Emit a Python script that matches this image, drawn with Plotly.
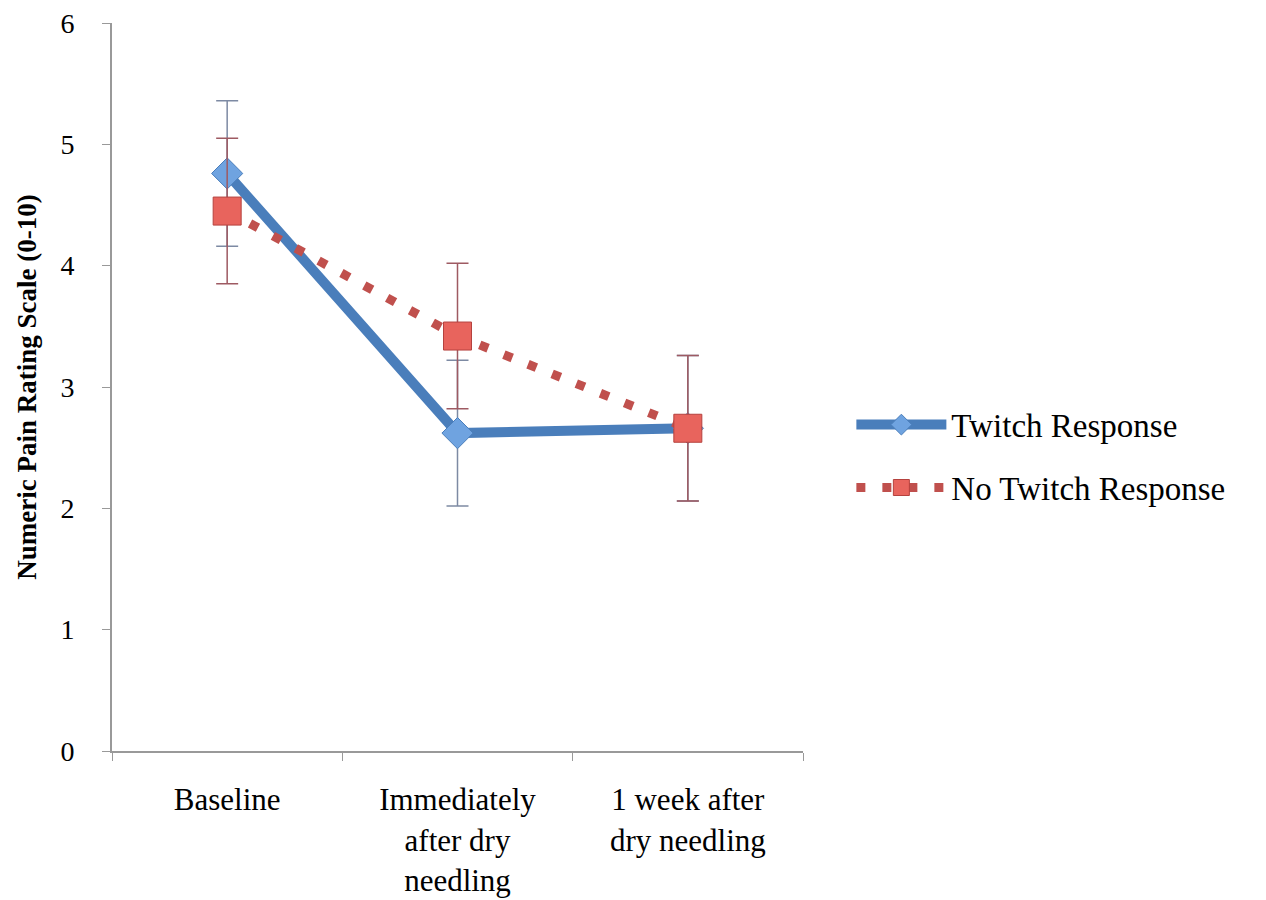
import plotly.graph_objects as go

categories = ["Baseline", "Immediately<br>after dry<br>needling", "1 week after<br>dry needling"]
twitch = [4.76, 2.62, 2.66]
twitch_err = [0.60, 0.60, 0.60]
no_twitch = [4.45, 3.42, 2.66]
no_twitch_err = [0.60, 0.60, 0.60]
y_ticks = [0, 1, 2, 3, 4, 5, 6]

font_family = "Liberation Serif, Times New Roman, serif"

fig = go.Figure()
fig.add_trace(go.Scatter(
    x=categories, y=twitch, name="Twitch Response", mode="lines+markers",
    legendgroup="a",
    line=dict(color="#4a7ebb", width=10),
    marker=dict(symbol="diamond", size=24, color="#6fa3e0", line=dict(color="#4a7ebb", width=1)),
    error_y=dict(type="data", array=twitch_err, visible=True, color="#7d8aa3", thickness=1.5, width=11),
))
fig.add_trace(go.Scatter(
    x=categories, y=no_twitch, name="No Twitch Response", mode="lines+markers",
    legendgroup="b",
    line=dict(color="#c0504d", width=9, dash="9px,17px"),
    marker=dict(symbol="square", size=28, color="#e8645d", line=dict(color="#b5423e", width=1)),
    error_y=dict(type="data", array=no_twitch_err, visible=True, color="#9e5a62", thickness=1.5, width=11),
))

fig.update_layout(
    width=1266, height=900,
    paper_bgcolor="white", plot_bgcolor="white",
    margin=dict(l=104, r=471, t=15, b=157),
    font=dict(family=font_family, size=28, color="black"),
    showlegend=True,
    legend=dict(x=1.07, y=0.405, xanchor="left", yanchor="middle",
                font=dict(family=font_family, size=33, color="black"),
                traceorder="grouped", tracegroupgap=17,
                itemwidth=90, bgcolor="rgba(0,0,0,0)"),
    xaxis=dict(type="category", range=[-0.5, 2.5], tickson="boundaries", ticks="outside", ticklen=8,
               tickcolor="#999999", showline=True, linecolor="#999999", linewidth=2,
               showgrid=False, automargin=False, ticklabelstandoff=20,
               ticklabeloverflow="allow",
               tickfont=dict(family=font_family, size=31)),
    yaxis=dict(range=[0, 6], tickvals=y_ticks, ticks="outside", ticklen=8, tickcolor="#999999",
               showline=True, linecolor="#999999", linewidth=2, showgrid=False, zeroline=False,
               automargin=False, ticklabelstandoff=22, ticklabeloverflow="allow",
               tickfont=dict(family=font_family, size=28),
               title=dict(text="<b>Numeric Pain Rating Scale (0-10)</b>", standoff=16,
                          font=dict(family=font_family, size=27))),
)

fig.write_html("out.html")
